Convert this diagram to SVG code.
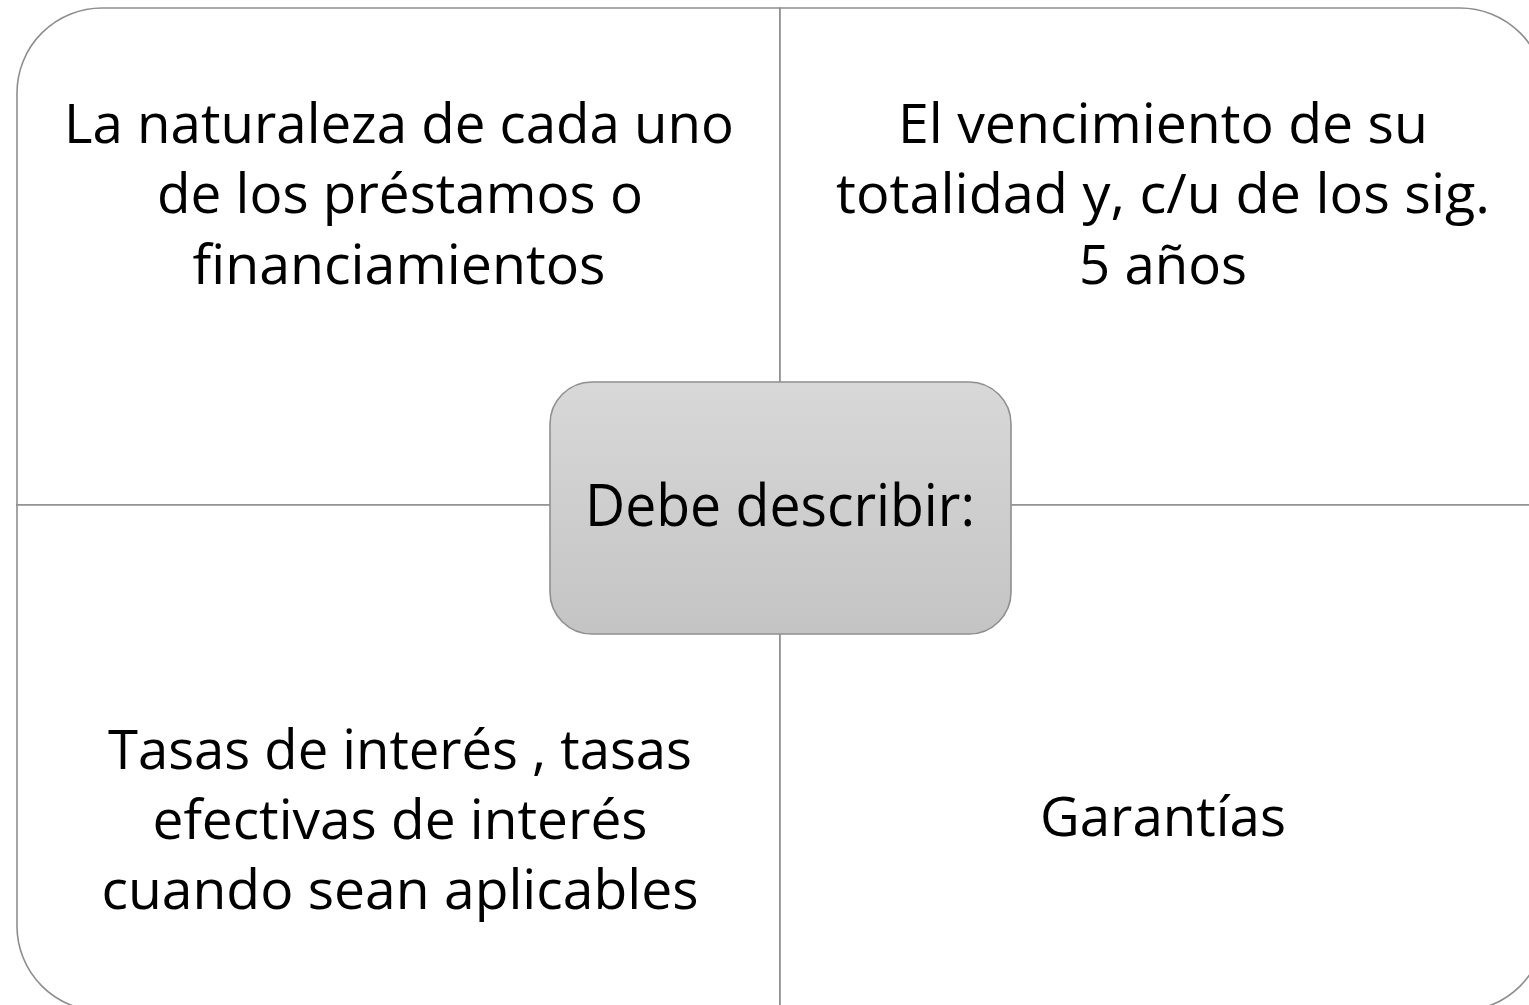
<svg xmlns="http://www.w3.org/2000/svg" width="1529" height="1005" viewBox="0 0 1529 1005">
<style>
.q{fill:#ffffff;stroke:#8e8e8e;stroke-width:1.6}
.t{font-family:"Open Sans","Liberation Sans",sans-serif;font-size:55px;fill:#000;text-anchor:middle}
.c{font-family:"Open Sans","Liberation Sans",sans-serif;font-size:59px;fill:#000;text-anchor:middle}
</style>
<defs>
<linearGradient id="g" x1="0" y1="0" x2="0" y2="1">
<stop offset="0" stop-color="#d8d8d8"/>
<stop offset="1" stop-color="#c4c4c4"/>
</linearGradient>
</defs>
<rect width="1529" height="1005" fill="#ffffff"/>
<g id="q-top-left">
<path class="q" d="M17,505 V93 A85,85 0 0 1 102,8 H780 V505 Z"/>
<text class="t" x="399" y="143" textLength="670" lengthAdjust="spacingAndGlyphs">La naturaleza de cada uno</text>
<text class="t" x="400" y="213" textLength="486" lengthAdjust="spacingAndGlyphs">de los préstamos o</text>
<text class="t" x="399" y="284" textLength="413" lengthAdjust="spacingAndGlyphs">financiamientos</text>
</g>
<g id="q-top-right">
<path class="q" d="M780,8 H1460 A85,85 0 0 1 1545,93 V505 H780 Z"/>
<text class="t" x="1163" y="143" textLength="530" lengthAdjust="spacingAndGlyphs">El vencimiento de su</text>
<text class="t" x="1163" y="213" textLength="654" lengthAdjust="spacingAndGlyphs">totalidad y, c/u de los sig.</text>
<text class="t" x="1163" y="284" textLength="168" lengthAdjust="spacingAndGlyphs">5 años</text>
</g>
<g id="q-bottom-left">
<path class="q" d="M17,505 H780 V1011 H102 A85,85 0 0 1 17,926 Z"/>
<text class="t" x="400" y="769" textLength="584" lengthAdjust="spacingAndGlyphs">Tasas de interés , tasas</text>
<text class="t" x="400" y="839" textLength="495" lengthAdjust="spacingAndGlyphs">efectivas de interés</text>
<text class="t" x="400" y="909" textLength="597" lengthAdjust="spacingAndGlyphs">cuando sean aplicables</text>
</g>
<g id="q-bottom-right">
<path class="q" d="M780,505 H1545 V926 A85,85 0 0 1 1460,1011 H780 Z"/>
<text class="t" x="1163" y="836" textLength="246" lengthAdjust="spacingAndGlyphs">Garantías</text>
</g>
<g id="center">
<rect x="550" y="382" width="461" height="252" rx="42" ry="42" fill="url(#g)" stroke="#8f8f8f" stroke-width="1.6"/>
<text class="c" x="780" y="526" textLength="390" lengthAdjust="spacingAndGlyphs">Debe describir:</text>
</g>
<g id="connectors"/>
</svg>
